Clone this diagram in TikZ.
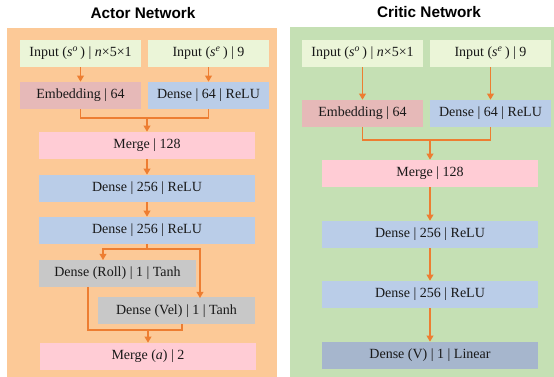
\documentclass[tikz,border=0pt]{standalone}
\usepackage{fontspec}
\setmainfont{Liberation Serif}
\newfontfamily\titlefont{Liberation Sans}
\usetikzlibrary{arrows.meta}
\definecolor{actorbg}{HTML}{FCC997}
\definecolor{criticbg}{HTML}{C5E0B4}
\definecolor{inputc}{HTML}{EBF5D8}
\definecolor{embc}{HTML}{E6B9B8}
\definecolor{densec}{HTML}{BACDE8}
\definecolor{mergec}{HTML}{FFCCD5}
\definecolor{grayc}{HTML}{C8C8C8}
\definecolor{valuec}{HTML}{A6B6CD}
\definecolor{flowc}{HTML}{ED7D31}
\begin{document}
\begin{tikzpicture}[x=0.75pt, y=-0.75pt,
	layer/.style={rectangle, inner sep=0pt, minimum height=20.25pt, text=black!90, font=\fontsize{10.5}{12}\selectfont},
	small/.style={layer, minimum width=90.75pt},
	mid/.style={layer, minimum width=117.75pt},
	wide/.style={layer, minimum width=162pt},
	flow/.style={draw=flowc, line width=1pt},
	arr/.style={flow, -{Triangle[width=5pt,length=4.5pt]}},
	title/.style={font=\titlefont\bfseries\fontsize{11.5}{13}\selectfont}]
		\useasboundingbox (0,0) rectangle (554,377);
		%panels
		\fill[actorbg] (7,28) rectangle (277,377);
		\fill[criticbg] (290,27) rectangle (554,377);
		\node (tA) at (143,13) [title]{Actor Network};
		\node (tC) at (429,12) [title]{Critic Network};
		
		%actor network
		\node (inoA) at (80.5,53.5) [small, fill=inputc]{Input (\textit{s}\textsuperscript{\textit{o}}\,) | \textit{n}×5×1};
		\node (ineA) at (208.5,53.5) [small, fill=inputc]{Input (\textit{s}\textsuperscript{\textit{e}}\,) | 9};
		\node (embA) at (80.5,95.5) [small, fill=embc]{Embedding | 64};
		\node (denA) at (208.5,95.5) [small, fill=densec]{Dense | 64 | ReLU};
		\node (mrgA) at (147,145.5) [wide, fill=mergec]{Merge | 128};
		\node (d1A) at (147,188.5) [wide, fill=densec]{Dense | 256 | ReLU};
		\node (d2A) at (147,230.5) [wide, fill=densec]{Dense | 256 | ReLU};
		\node (roll) at (117.5,273.5) [mid, fill=grayc]{Dense (Roll) | 1 | Tanh};
		\node (vel) at (176.5,311) [mid, fill=grayc]{Dense (Vel) | 1 | Tanh};
		\node (outA) at (148,356.5) [wide, fill=mergec]{Merge (\textit{a}) | 2};
		
		\draw[arr] (inoA) -- (embA);
		\draw[arr] (ineA) -- (denA);
		\coordinate (jA) at (147,118);
		\draw[flow] (embA.south) |- (jA) -| (denA.south);
		\draw[arr] (jA) -- (mrgA);
		\draw[arr] (mrgA) -- (d1A);
		\draw[arr] (d1A) -- (d2A);
		\coordinate (bA) at (147,249);
		\coordinate (rollT) at (103,260);
		\coordinate (velT) at (200,298);
		\draw[flow] (d2A.south) -- (bA);
		\draw[arr] (bA) -| (rollT);
		\draw[arr] (bA) -| (velT);
		\coordinate (rollB) at (88,287);
		\coordinate (velB) at (182,324);
		\coordinate (jOut) at (148,330);
		\draw[flow] (rollB) |- (jOut) -| (velB);
		\draw[arr] (jOut) -- (outA);
		
		%critic network
		\node (inoC) at (362.5,53.5) [small, fill=inputc]{Input (\textit{s}\textsuperscript{\textit{o}}\,) | \textit{n}×5×1};
		\node (ineC) at (490.5,53.5) [small, fill=inputc]{Input (\textit{s}\textsuperscript{\textit{e}}\,) | 9};
		\node (embC) at (362.5,113.5) [small, fill=embc]{Embedding | 64};
		\node (denC) at (490.5,113.5) [small, fill=densec]{Dense | 64 | ReLU};
		\node (mrgC) at (430,173.5) [wide, fill=mergec]{Merge | 128};
		\node (d1C) at (430,234.5) [wide, fill=densec]{Dense | 256 | ReLU};
		\node (d2C) at (430,294.5) [wide, fill=densec]{Dense | 256 | ReLU};
		\node (outC) at (430,355.5) [wide, fill=valuec]{Dense (V) | 1 | Linear};
		
		\draw[arr] (inoC) -- (embC);
		\draw[arr] (ineC) -- (denC);
		\coordinate (jC) at (430,140);
		\draw[flow] (embC.south) |- (jC) -| (denC.south);
		\draw[arr] (jC) -- (mrgC);
		\draw[arr] (mrgC) -- (d1C);
		\draw[arr] (d1C) -- (d2C);
		\draw[arr] (d2C) -- (outC);
\end{tikzpicture}
\end{document}
